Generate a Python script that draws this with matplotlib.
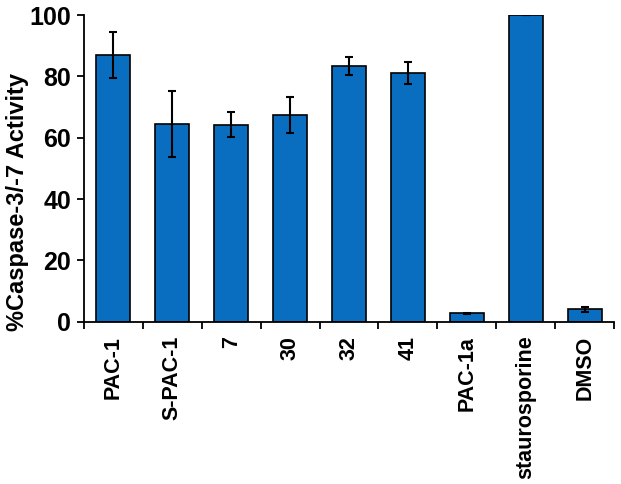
import numpy as np
import matplotlib
matplotlib.use('Agg')
import matplotlib.pyplot as plt

# data
compounds = ['PAC-1', 'S-PAC-1', '7', '30', '32', '41', 'PAC-1a', 'staurosporine', 'DMSO']
activity = [87.0, 64.5, 64.2, 67.4, 83.4, 81.2, 2.8, 100.0, 4.1]
errors = [7.5, 10.8, 4.1, 5.8, 3.0, 3.6, 0.2, 0.0, 0.8]

plt.rcParams['font.family'] = ['Liberation Sans', 'DejaVu Sans']

fig = plt.figure(figsize=(6.21, 4.84), dpi=100)
ax = fig.add_axes([0.135, 0.335, 0.854, 0.634])

x = np.arange(len(compounds))
ax.bar(x, activity, width=0.58, color='#0A6EC0', edgecolor='black', linewidth=1.2, zorder=2)
ax.errorbar(x, activity, yerr=errors, fmt='none', ecolor='black', elinewidth=1.5,
            capsize=3, capthick=1.5, zorder=3)

ax.set_xlim(-0.5, len(compounds) - 0.5)
ax.set_ylim(0, 100)
ax.set_yticks([0, 20, 40, 60, 80, 100])
ax.tick_params(axis='y', labelsize=18, width=1.3, length=5, pad=4)
for lbl in ax.get_yticklabels():
    lbl.set_fontweight('bold')

ax.set_xticks(x)
ax.set_xticklabels(compounds, rotation=90, fontsize=15.5, fontweight='bold')
ax.tick_params(axis='x', which='major', length=0, pad=10)
ax.set_xticks(np.arange(len(compounds) + 1) - 0.5, minor=True)
ax.tick_params(axis='x', which='minor', length=5, width=1.3, direction='out')

ax.set_ylabel('%Caspase-3/-7 Activity', fontsize=17, fontweight='bold')
ax.yaxis.set_label_coords(-0.104, 0.39)

for side in ['top', 'right']:
    ax.spines[side].set_visible(False)
for side in ['left', 'bottom']:
    ax.spines[side].set_linewidth(1.3)

fig.savefig('out.png', dpi=100)
